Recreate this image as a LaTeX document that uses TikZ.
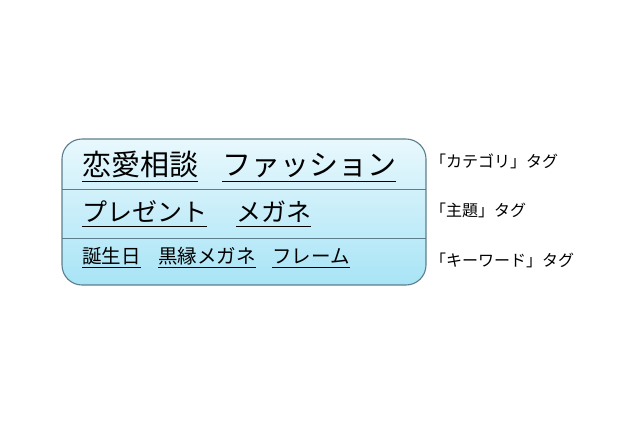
\documentclass[tikz,border=0pt]{standalone}
\usepackage{fontspec}
\newfontfamily\jpfont{Noto Sans CJK JP}
\usetikzlibrary{positioning}

\definecolor{boxtop}{HTML}{E8F8FD}
\definecolor{boxbottom}{HTML}{A8E4F6}
\definecolor{boxline}{HTML}{5C7E8C}

\tikzset{
  tagword/.style={anchor=base west,inner sep=0pt,text=black},
  tagname/.style={anchor=west,inner sep=0pt,text=black,font=\jpfont\fontsize{16}{16}\selectfont},
  uline/.style={black,line width=0.9pt}
}

\begin{document}
\begin{tikzpicture}[x=1pt,y=-1pt]
\useasboundingbox (0,0) rectangle (640,426);

\shadedraw[top color=boxtop,bottom color=boxbottom,draw=boxline,line width=1.1pt,rounded corners=20pt]
  (62,139) rectangle (426,285);
\coordinate (d1l) at (62,189);
\coordinate (d1r) at (426,189);
\coordinate (d2l) at (62,238);
\coordinate (d2r) at (426,238);
\draw[boxline,line width=0.9pt] (d1l)--(d1r);
\draw[boxline,line width=0.9pt] (d2l)--(d2r);

% category row
\node[tagword,font=\jpfont\fontsize{29}{29}\selectfont] (love) at (82,175) {恋愛相談};
\node[tagword,font=\jpfont\fontsize{29}{29}\selectfont] (fashion) at (222,175) {ファッション};
% subject row
\node[tagword,font=\jpfont\fontsize{25}{25}\selectfont] (present) at (82,221) {プレゼント};
\node[tagword,font=\jpfont\fontsize{25}{25}\selectfont] (glasses) at (236,221) {メガネ};
% keyword row
\node[tagword,font=\jpfont\fontsize{19.5}{19.5}\selectfont] (birthday) at (82,263) {誕生日};
\node[tagword,font=\jpfont\fontsize{19.5}{19.5}\selectfont] (blackrim) at (158,263) {黒縁メガネ};
\node[tagword,font=\jpfont\fontsize{19.5}{19.5}\selectfont] (frame) at (272,263) {フレーム};

\foreach \n/\d in {love/6,fashion/6,present/5.5,glasses/5.5,birthday/4,blackrim/4,frame/4}
  \draw[uline] ([yshift=-\d pt]\n.base west)--([yshift=-\d pt]\n.base east);

\node[tagname] (cat) at (430,161) {「カテゴリ」タグ};
\node[tagname] (subj) at (430,210) {「主題」タグ};
\node[tagname] (key) at (430,260) {「キーワード」タグ};

\end{tikzpicture}
\end{document}
